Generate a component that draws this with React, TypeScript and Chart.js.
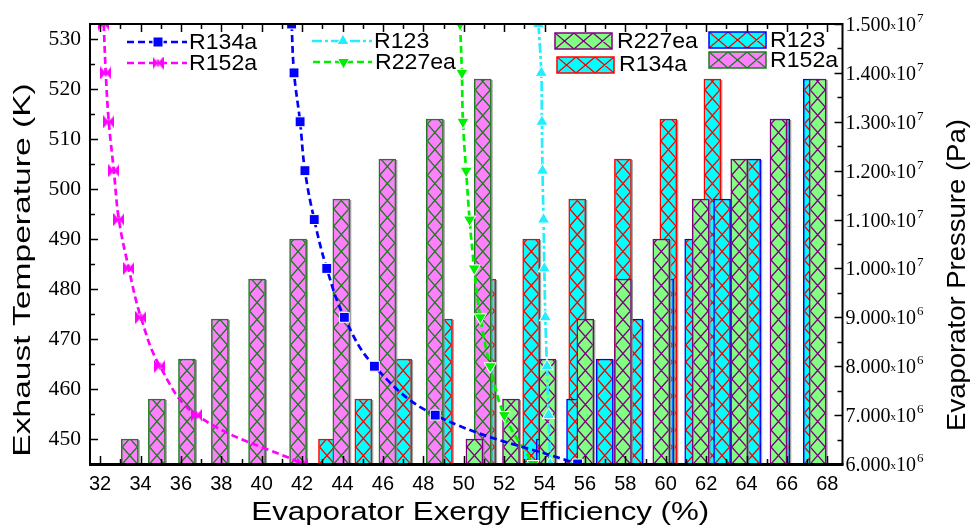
import React, { useEffect, useRef } from 'react';
import { Chart, registerables } from 'chart.js';

Chart.register(...registerables);

// ---------------- data ----------------
const EXHAUST_TEMPS = [450, 458, 466, 474, 482, 490, 498, 506, 514, 522];

const BAR_EFF_R227EA = [50.53, 52.34, 54.14, 56.02, 57.88, 59.78, 61.73, 63.64, 65.58, 67.52];
const BAR_EFF_R123 = [54.01, 55.51, 56.98, 58.45, 59.97, 61.36, 62.79, 64.28, 65.72, 67.23];
const BAR_EFF_R152A = [33.47, 34.81, 36.3, 37.93, 39.77, 41.8, 43.94, 46.22, 48.57, 50.94];
const BAR_EFF_R134A = [43.23, 45.03, 47.0, 49.02, 51.16, 53.34, 55.62, 57.88, 60.13, 62.31];

const PRESSURES = [1.5e7, 1.4e7, 1.3e7, 1.2e7, 1.1e7, 1.0e7, 9e6, 8e6, 7e6, 6e6];
const LINE_EFF_R134A = [41.48, 41.6, 41.9, 42.14, 42.6, 43.22, 44.09, 45.58, 48.59, 55.64];
const LINE_EFF_R152A = [32.18, 32.28, 32.43, 32.68, 32.93, 33.42, 34.02, 34.96, 36.78, 42.04];
const LINE_EFF_R123 = [53.7, 53.84, 53.87, 53.9, 53.95, 53.99, 54.04, 54.12, 54.2, 54.28];
const LINE_EFF_R227EA = [49.82, 49.91, 49.96, 50.12, 50.29, 50.52, 50.82, 51.31, 52.01, 53.43];

const X_MIN = 31.5;
const X_MAX = 68.75;
const T_MIN = 445;
const T_MAX = 533;
const P_MIN = 6e6;
const P_MAX = 1.5e7;

const X_TICKS = [32, 34, 36, 38, 40, 42, 44, 46, 48, 50, 52, 54, 56, 58, 60, 62, 64, 66, 68];
const T_TICKS = [450, 460, 470, 480, 490, 500, 510, 520, 530];
const P_TICKS = [6e6, 7e6, 8e6, 9e6, 1e7, 1.1e7, 1.2e7, 1.3e7, 1.4e7, 1.5e7];
const P_TICK_MANTISSA = ['6.000', '7.000', '8.000', '9.000', '1.000', '1.100', '1.200', '1.300', '1.400', '1.500'];
const P_TICK_EXPONENT = ['6', '6', '6', '6', '7', '7', '7', '7', '7', '7'];

const X_TITLE = 'Evaporator Exergy Efficiency (%)';
const Y_TITLE = 'Exhaust Temperature (K)';
const Y1_TITLE = 'Evaporator Pressure (Pa)';

// ---------------- styles ----------------
const SANS = '"Liberation Sans", Arial, sans-serif';
const SERIF = '"Liberation Serif", "Times New Roman", serif';

const PINK = '#FF80FF';
const CYAN = '#00FFFF';
const LGREEN = '#80FF80';
const DGREEN = '#1E7B1E';
const PURPLE = '#800080';
const RED = '#FF0000';
const BLUE = '#0000FF';
const MAGENTA = '#FF00FF';
const LINE_CYAN = '#22EEFF';
const LINE_GREEN = '#00EE00';

function drawText(ctx: CanvasRenderingContext2D, str: string, x: number, y: number, font: string,
  align: CanvasTextAlign = 'left', sx = 1, rot = 0, baseline: CanvasTextBaseline = 'middle') {
  ctx.save();
  ctx.translate(x, y);
  if (rot) ctx.rotate(rot);
  ctx.scale(sx, 1);
  ctx.font = font;
  ctx.textAlign = align;
  ctx.textBaseline = baseline;
  ctx.fillStyle = '#000';
  ctx.fillText(str, 0, 0);
  ctx.restore();
}

function drawHatch(ctx: CanvasRenderingContext2D, left: number, top: number, w: number, h: number,
  cols: number, cellH: number, color: string, lw: number) {
  if (h <= 0 || w <= 0) return;
  const cw = w / cols;
  ctx.save();
  ctx.beginPath();
  ctx.rect(left, top, w, h);
  ctx.clip();
  ctx.strokeStyle = color;
  ctx.lineWidth = lw;
  ctx.beginPath();
  const bottom = top + h;
  const rows = Math.ceil(h / cellH) + 1;
  for (let r = 0; r < rows; r++) {
    const yb = bottom - r * cellH;
    const yt = yb - cellH;
    for (let c = 0; c < cols; c++) {
      const xl = left + c * cw;
      const xr = xl + cw;
      ctx.moveTo(xl, yb);
      ctx.lineTo(xr, yt);
      ctx.moveTo(xl, yt);
      ctx.lineTo(xr, yb);
    }
  }
  ctx.stroke();
  ctx.restore();
}

function makeBowtie(color: string) {
  const c = document.createElement('canvas');
  c.width = 11;
  c.height = 13;
  const g = c.getContext('2d')!;
  g.fillStyle = color;
  g.beginPath();
  g.moveTo(0, 0); g.lineTo(5.5, 6.5); g.lineTo(0, 13); g.closePath(); g.fill();
  g.beginPath();
  g.moveTo(11, 0); g.lineTo(5.5, 6.5); g.lineTo(11, 13); g.closePath(); g.fill();
  g.fillRect(4.5, 3, 2, 7);
  return c;
}

function drawMarker(ctx: CanvasRenderingContext2D, kind: string, x: number, y: number, color: string, bowtie: HTMLCanvasElement) {
  ctx.save();
  ctx.fillStyle = color;
  ctx.strokeStyle = '#fff';
  ctx.lineWidth = 1;
  if (kind === 'square') {
    ctx.beginPath(); ctx.rect(x - 5, y - 5, 10, 10); ctx.fill(); ctx.stroke();
  } else if (kind === 'triUp' || kind === 'triDown') {
    const r = 7;
    const s = kind === 'triUp' ? 1 : -1;
    ctx.beginPath();
    ctx.moveTo(x, y - s * r);
    ctx.lineTo(x + r * 0.866, y + s * r * 0.5);
    ctx.lineTo(x - r * 0.866, y + s * r * 0.5);
    ctx.closePath();
    ctx.fill(); ctx.stroke();
  } else if (kind === 'bowtie') {
    ctx.drawImage(bowtie, x - bowtie.width / 2, y - bowtie.height / 2);
  }
  ctx.restore();
}

const hatchPlugin = {
  id: 'hatchBars',
  beforeDatasetDraw(chart: any, args: any) {
    const ds = chart.data.datasets[args.index];
    if (!ds.hatchColor) return;
    const ctx = chart.ctx as CanvasRenderingContext2D;
    const a = chart.chartArea;
    ctx.save();
    ctx.beginPath();
    ctx.rect(a.left, a.top, a.right - a.left, a.bottom - a.top);
    ctx.clip();
    ctx.fillStyle = 'rgba(140,140,140,0.8)';
    args.meta.data.forEach((el: any) => {
      const p = el.getProps(['x', 'y', 'base', 'width'], true);
      const l = p.x - p.width / 2;
      ctx.fillRect(l + 1.5, p.y + 1, p.width, p.base - p.y);
    });
    ctx.restore();
  },
  afterDatasetDraw(chart: any, args: any) {
    const ds = chart.data.datasets[args.index];
    if (!ds.hatchColor) return;
    const ctx = chart.ctx as CanvasRenderingContext2D;
    const a = chart.chartArea;
    ctx.save();
    ctx.beginPath();
    ctx.rect(a.left, a.top, a.right - a.left, a.bottom - a.top);
    ctx.clip();
    args.meta.data.forEach((el: any) => {
      const p = el.getProps(['x', 'y', 'base', 'width'], true);
      const l = p.x - p.width / 2;
      drawHatch(ctx, l + 1, p.y + 1, p.width - 2, p.base - p.y - 1, 1, p.width, ds.hatchColor, 1.3);
    });
    ctx.restore();
  },
};

function makeDecorPlugin(bowtie: HTMLCanvasElement) {
  return {
    id: 'decor',
    afterDraw(chart: any) {
      const ctx = chart.ctx as CanvasRenderingContext2D;
      const { left, right, top, bottom } = chart.chartArea;
      const xs = chart.scales.x;
      const ys = chart.scales.y;
      const y1 = chart.scales.y1;

      // frame
      ctx.save();
      ctx.strokeStyle = '#000';
      ctx.lineWidth = 2;
      ctx.strokeRect(left, top, right - left, bottom - top);
      ctx.lineWidth = 3;
      ctx.beginPath();
      ctx.moveTo(left - 1, bottom + 0.5);
      ctx.lineTo(right + 1, bottom + 0.5);
      ctx.stroke();

      // ticks (inward)
      ctx.lineWidth = 1.5;
      ctx.beginPath();
      for (let v = 32; v <= 68; v++) {
        const px = Math.round(xs.getPixelForValue(v)) + 0.5;
        const len = v % 2 === 0 ? 8 : 5;
        ctx.moveTo(px, bottom); ctx.lineTo(px, bottom - len);
        ctx.moveTo(px, top); ctx.lineTo(px, top + len);
      }
      for (let v = 450; v <= 530; v += 5) {
        const py = Math.round(ys.getPixelForValue(v)) + 0.5;
        const len = v % 10 === 0 ? 8 : 5;
        ctx.moveTo(left, py); ctx.lineTo(left + len, py);
      }
      for (let k = 0; k <= 18; k++) {
        const v = P_MIN + k * 5e5;
        const py = Math.round(y1.getPixelForValue(v)) + 0.5;
        const len = k % 2 === 0 ? 8 : 5;
        ctx.moveTo(right, py); ctx.lineTo(right - len, py);
      }
      ctx.stroke();
      ctx.restore();

      // x tick labels
      X_TICKS.forEach((v) => {
        drawText(ctx, String(v), xs.getPixelForValue(v), 484, `20px ${SANS}`, 'center');
      });
      // left tick labels
      T_TICKS.forEach((v) => {
        drawText(ctx, String(v), 81, ys.getPixelForValue(v) + 1, `20px ${SERIF}`, 'right', 1.08);
      });
      // right tick labels
      P_TICKS.forEach((v, i) => {
        const py = y1.getPixelForValue(v);
        const x0 = right + 3;
        ctx.save();
        ctx.fillStyle = '#000';
        ctx.textBaseline = 'alphabetic';
        ctx.textAlign = 'left';
        ctx.font = `20px ${SERIF}`;
        const base = py + 7;
        ctx.fillText(P_TICK_MANTISSA[i], x0, base);
        let cx = x0 + ctx.measureText(P_TICK_MANTISSA[i]).width;
        ctx.font = `11px ${SERIF}`;
        ctx.fillText('x', cx, base - 2);
        cx += ctx.measureText('x').width;
        ctx.font = `20px ${SERIF}`;
        ctx.fillText('10', cx, base);
        cx += ctx.measureText('10').width + 1;
        ctx.font = `13px ${SERIF}`;
        ctx.fillText(P_TICK_EXPONENT[i], cx, base - 9);
        ctx.restore();
      });

      // axis titles
      drawText(ctx, X_TITLE, (left + right) / 2 + 14, 513, `25px ${SANS}`, 'center', 1.25);
      drawText(ctx, Y_TITLE, 23, 270, `24px ${SANS}`, 'center', 1.4, -Math.PI / 2);
      drawText(ctx, Y1_TITLE, 958, 275, `25px ${SANS}`, 'center', 1.1, -Math.PI / 2);

      // legend: lines
      const lineLegend = [
        { label: 'R134a', color: BLUE, dash: [7, 4], marker: 'square', x1: 127, x2: 187, y: 42, tx: 189 },
        { label: 'R152a', color: MAGENTA, dash: [7, 4], marker: 'bowtie', x1: 127, x2: 187, y: 63, tx: 189 },
        { label: 'R123', color: LINE_CYAN, dash: [10, 3, 3, 3], marker: 'triUp', x1: 312, x2: 372, y: 41, tx: 374 },
        { label: 'R227ea', color: LINE_GREEN, dash: [7, 4], marker: 'triDown', x1: 313, x2: 372, y: 62, tx: 375 },
      ];
      lineLegend.forEach((e) => {
        ctx.save();
        ctx.strokeStyle = e.color;
        ctx.lineWidth = 2.5;
        ctx.setLineDash(e.dash);
        ctx.beginPath();
        ctx.moveTo(e.x1, e.y);
        ctx.lineTo(e.x2, e.y);
        ctx.stroke();
        ctx.restore();
        drawMarker(ctx, e.marker, (e.x1 + e.x2) / 2 + 1, e.y, e.color, bowtie);
        drawText(ctx, e.label, e.tx, e.y + 1, `22px ${SANS}`, 'left', 1.05);
      });

      // legend: bars
      const barLegend = [
        { label: 'R227ea', fill: LGREEN, border: PURPLE, hatch: PURPLE, x: 555, y: 33, tx: 617, ty: 42 },
        { label: 'R134a', fill: CYAN, border: RED, hatch: RED, x: 557, y: 57, tx: 619, ty: 65 },
        { label: 'R123', fill: CYAN, border: BLUE, hatch: RED, x: 709, y: 32, tx: 770, ty: 41 },
        { label: 'R152a', fill: PINK, border: DGREEN, hatch: DGREEN, x: 709, y: 52, tx: 770, ty: 61 },
      ];
      barLegend.forEach((e) => {
        const w = 57;
        const h = 16;
        ctx.save();
        ctx.fillStyle = e.fill;
        ctx.fillRect(e.x, e.y, w, h);
        ctx.restore();
        drawHatch(ctx, e.x, e.y, w, h, 3, h, e.hatch, 1.3);
        ctx.save();
        ctx.strokeStyle = e.border;
        ctx.lineWidth = 1.5;
        ctx.strokeRect(e.x, e.y, w, h);
        ctx.restore();
        drawText(ctx, e.label, e.tx, e.ty, `22px ${SANS}`, 'left', 1.05);
      });
    },
  };
}

function barDataset(label: string, effs: number[], fill: string, border: string, hatch: string, order: number) {
  return {
    type: 'bar' as const,
    label,
    data: effs.map((x, i) => ({ x, y: EXHAUST_TEMPS[i] })),
    backgroundColor: fill,
    borderColor: border,
    borderWidth: 1.5,
    barThickness: 17,
    grouped: false,
    base: T_MIN,
    xAxisID: 'x',
    yAxisID: 'y',
    order,
    hatchColor: hatch,
  };
}

function lineDataset(label: string, effs: number[], color: string, dash: number[], pointStyle: any,
  radius: number, rotation: number) {
  return {
    type: 'line' as const,
    label,
    data: effs.map((x, i) => ({ x, y: PRESSURES[i] })),
    borderColor: color,
    backgroundColor: color,
    borderWidth: 2.7,
    borderDash: dash,
    pointStyle,
    pointRadius: radius,
    pointRotation: rotation,
    pointBackgroundColor: color,
    pointBorderColor: '#ffffff',
    pointBorderWidth: 1,
    tension: 0.4,
    fill: false,
    xAxisID: 'x',
    yAxisID: 'y1',
    order: 0,
  };
}

export default function App() {
  const ref = useRef<HTMLCanvasElement>(null);

  useEffect(() => {
    const canvas = ref.current;
    if (!canvas) return;
    const bowtie = makeBowtie(MAGENTA);
    const chart = new Chart(canvas, {
      type: 'bar',
      data: {
        datasets: [
          lineDataset('R134a', LINE_EFF_R134A, BLUE, [7, 4], 'rect', 7, 0) as any,
          lineDataset('R152a', LINE_EFF_R152A, MAGENTA, [7, 4], bowtie, 6, 0) as any,
          lineDataset('R123', LINE_EFF_R123, LINE_CYAN, [10, 3, 3, 3], 'triangle', 7, 0) as any,
          lineDataset('R227ea', LINE_EFF_R227EA, LINE_GREEN, [7, 4], 'triangle', 7, 180) as any,
          barDataset('R227ea', BAR_EFF_R227EA, LGREEN, PURPLE, PURPLE, 1) as any,
          barDataset('R152a', BAR_EFF_R152A, PINK, DGREEN, DGREEN, 2) as any,
          barDataset('R123', BAR_EFF_R123, CYAN, BLUE, RED, 3) as any,
          barDataset('R134a', BAR_EFF_R134A, CYAN, RED, RED, 4) as any,
        ],
      },
      options: {
        animation: false,
        responsive: false,
        maintainAspectRatio: false,
        devicePixelRatio: 1,
        events: [],
        layout: { padding: { left: 90, right: 134.5, top: 24, bottom: 65 } },
        plugins: { legend: { display: false }, tooltip: { enabled: false } },
        scales: {
          x: { type: 'linear', min: X_MIN, max: X_MAX, offset: false, display: false },
          y: { type: 'linear', position: 'left', min: T_MIN, max: T_MAX, display: false },
          y1: { type: 'linear', position: 'right', min: P_MIN, max: P_MAX, display: false },
        },
      },
      plugins: [hatchPlugin as any, makeDecorPlugin(bowtie) as any],
    });
    return () => chart.destroy();
  }, []);

  return (
    <div style={{ position: 'fixed', left: 0, top: 0, width: 977, height: 529, background: '#fff' }}>
      <canvas ref={ref} width={977} height={529} style={{ display: 'block', width: 977, height: 529 }} />
    </div>
  );
}
